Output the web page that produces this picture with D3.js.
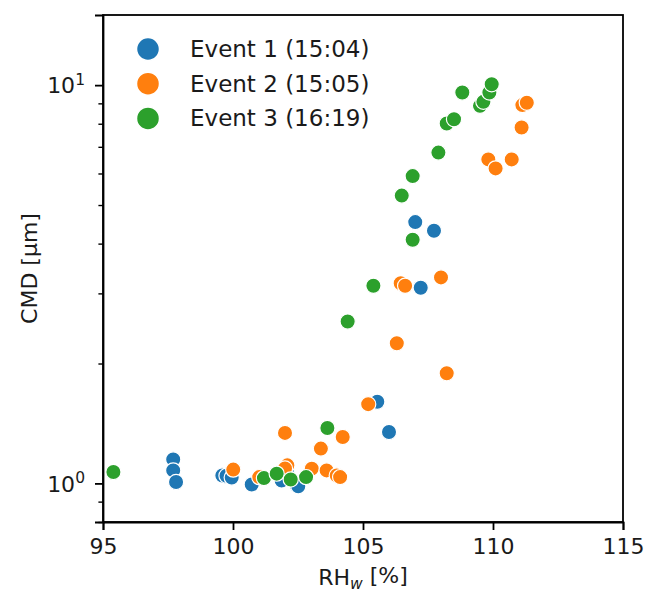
<!DOCTYPE html>
<html>
<head>
<meta charset="utf-8">
<script src="https://cdn.jsdelivr.net/npm/d3@7"></script>
<style>
  body { margin: 0; background: #fff; }
  svg text { font-family: "DejaVu Sans", sans-serif; fill: #1a1a1a; }
</style>
</head>
<body>
<div id="chart"></div>
<script>
// RH_w [%] and CMD [um] for each event
const event1RH  = [97.70, 97.70, 97.81, 99.59, 99.75, 99.95, 100.72, 101.87, 102.08, 102.45, 102.51, 105.55, 106.00, 107.22, 107.01, 107.73];
const event1CMD = [1.149, 1.078, 1.008, 1.047, 1.045, 1.034, 0.994, 1.017, 1.080, 0.988, 0.983, 1.603, 1.346, 3.10, 4.53, 4.31];

const event2RH  = [100.01, 101.01, 102.00, 102.09, 102.00, 103.03, 103.60, 103.99, 104.12, 103.38, 104.22, 105.20, 106.30, 106.45, 106.62, 108.00, 108.22, 109.82, 110.10, 110.72, 111.10, 111.13, 111.30];
const event2CMD = [1.083, 1.037, 1.339, 1.110, 1.090, 1.089, 1.078, 1.047, 1.037, 1.223, 1.308, 1.581, 2.248, 3.18, 3.135, 3.29, 1.89, 6.51, 6.18, 6.51, 7.83, 8.91, 9.03];

const event3RH  = [95.40, 101.19, 101.68, 102.22, 102.81, 103.63, 104.41, 105.40, 106.49, 106.91, 106.91, 107.90, 108.22, 108.50, 108.82, 109.50, 109.63, 109.86, 109.95];
const event3CMD = [1.068, 1.031, 1.058, 1.023, 1.037, 1.378, 2.549, 3.135, 5.28, 5.91, 4.09, 6.77, 8.01, 8.21, 9.58, 8.87, 9.08, 9.58, 10.05];

const seriesNames = ["Event 1 (15:04)", "Event 2 (15:05)", "Event 3 (16:19)"];
const seriesColors = ["#1f77b4", "#ff7f0e", "#2ca02c"];
const xTicks = [95, 100, 105, 110, 115];
const yMajor = [1, 10];
const yMinor = [0.8, 0.9, 2, 3, 4, 5, 6, 7, 8, 9];

const series = [
  { rh: event1RH, cmd: event1CMD },
  { rh: event2RH, cmd: event2CMD },
  { rh: event3RH, cmd: event3CMD }
];

const width = 646, height = 595;
const margin = { top: 15, right: 23, bottom: 73, left: 103 };
const fontSize = 22;

const svg = d3.select("#chart").append("svg")
  .attr("width", width)
  .attr("height", height);

const x = d3.scaleLinear().domain([95, 115]).range([margin.left, width - margin.right]);
const y = d3.scaleLog().domain([0.8, 15]).range([height - margin.bottom, margin.top]);

// points, one series after another
series.forEach((s, i) => {
  svg.append("g")
    .selectAll("circle")
    .data(s.rh.map((v, j) => [v, s.cmd[j]]))
    .enter()
    .append("circle")
    .attr("cx", d => x(d[0]))
    .attr("cy", d => y(d[1]))
    .attr("r", 7.6)
    .attr("fill", seriesColors[i])
    .attr("stroke", "#fff")
    .attr("stroke-width", 1.2);
});

// x axis
const xAxis = svg.append("g")
  .attr("transform", `translate(0,${height - margin.bottom})`)
  .call(d3.axisBottom(x).tickValues(xTicks).tickSize(8).tickPadding(8).tickFormat(d3.format("d")));
xAxis.selectAll("text").style("font-size", fontSize + "px");

// y axis minor ticks
svg.append("g")
  .attr("transform", `translate(${margin.left},0)`)
  .call(d3.axisLeft(y).tickValues(yMinor).tickSize(4.6).tickFormat(""))
  .call(g => g.select(".domain").remove())
  .call(g => g.selectAll("line").attr("stroke-width", 1.4));

// y axis major ticks, labels as 10^n
const yAxis = svg.append("g")
  .attr("transform", `translate(${margin.left},0)`)
  .call(d3.axisLeft(y).tickValues(yMajor).tickSize(8).tickPadding(10).tickFormat(""));
yAxis.selectAll(".tick").append("text")
  .attr("x", -18)
  .attr("dy", "0.35em")
  .attr("text-anchor", "end")
  .style("font-size", fontSize + "px")
  .each(function (d) {
    const t = d3.select(this);
    t.append("tspan").text("10");
    t.append("tspan").attr("dy", "-0.55em").style("font-size", "15.5px").text(Math.round(Math.log10(d)));
  });

svg.selectAll(".domain").attr("stroke-width", 1.8);
svg.selectAll(".tick line").filter(function () { return d3.select(this).attr("stroke-width") == null; })
  .attr("stroke-width", 1.8);

// frame
svg.append("rect")
  .attr("x", margin.left)
  .attr("y", margin.top)
  .attr("width", width - margin.left - margin.right)
  .attr("height", height - margin.top - margin.bottom)
  .attr("fill", "none")
  .attr("stroke", "#000")
  .attr("stroke-width", 1.8);

// axis labels
const xl = svg.append("text")
  .attr("x", (margin.left + width - margin.right) / 2)
  .attr("y", 585)
  .attr("text-anchor", "middle")
  .style("font-size", fontSize + "px");
xl.append("tspan").text("RH");
xl.append("tspan").attr("dy", "0.25em").style("font-size", "15.5px").style("font-style", "italic").text("w");
xl.append("tspan").attr("dy", "-0.25em").text(" [%]");

svg.append("text")
  .attr("transform", `translate(37,${(margin.top + height - margin.bottom) / 2}) rotate(-90)`)
  .attr("text-anchor", "middle")
  .style("font-size", fontSize + "px")
  .text("CMD [µm]");

// legend
const legend = svg.append("g");
seriesNames.forEach((name, i) => {
  const ly = 49 + i * 34.7;
  legend.append("circle")
    .attr("cx", 148)
    .attr("cy", ly)
    .attr("r", 11.5)
    .attr("fill", seriesColors[i])
    .attr("stroke", "#fff")
    .attr("stroke-width", 1.5);
  legend.append("text")
    .attr("x", 190)
    .attr("y", ly)
    .attr("dy", "0.35em")
    .style("font-size", "23px")
    .text(name);
});
</script>
</body>
</html>
